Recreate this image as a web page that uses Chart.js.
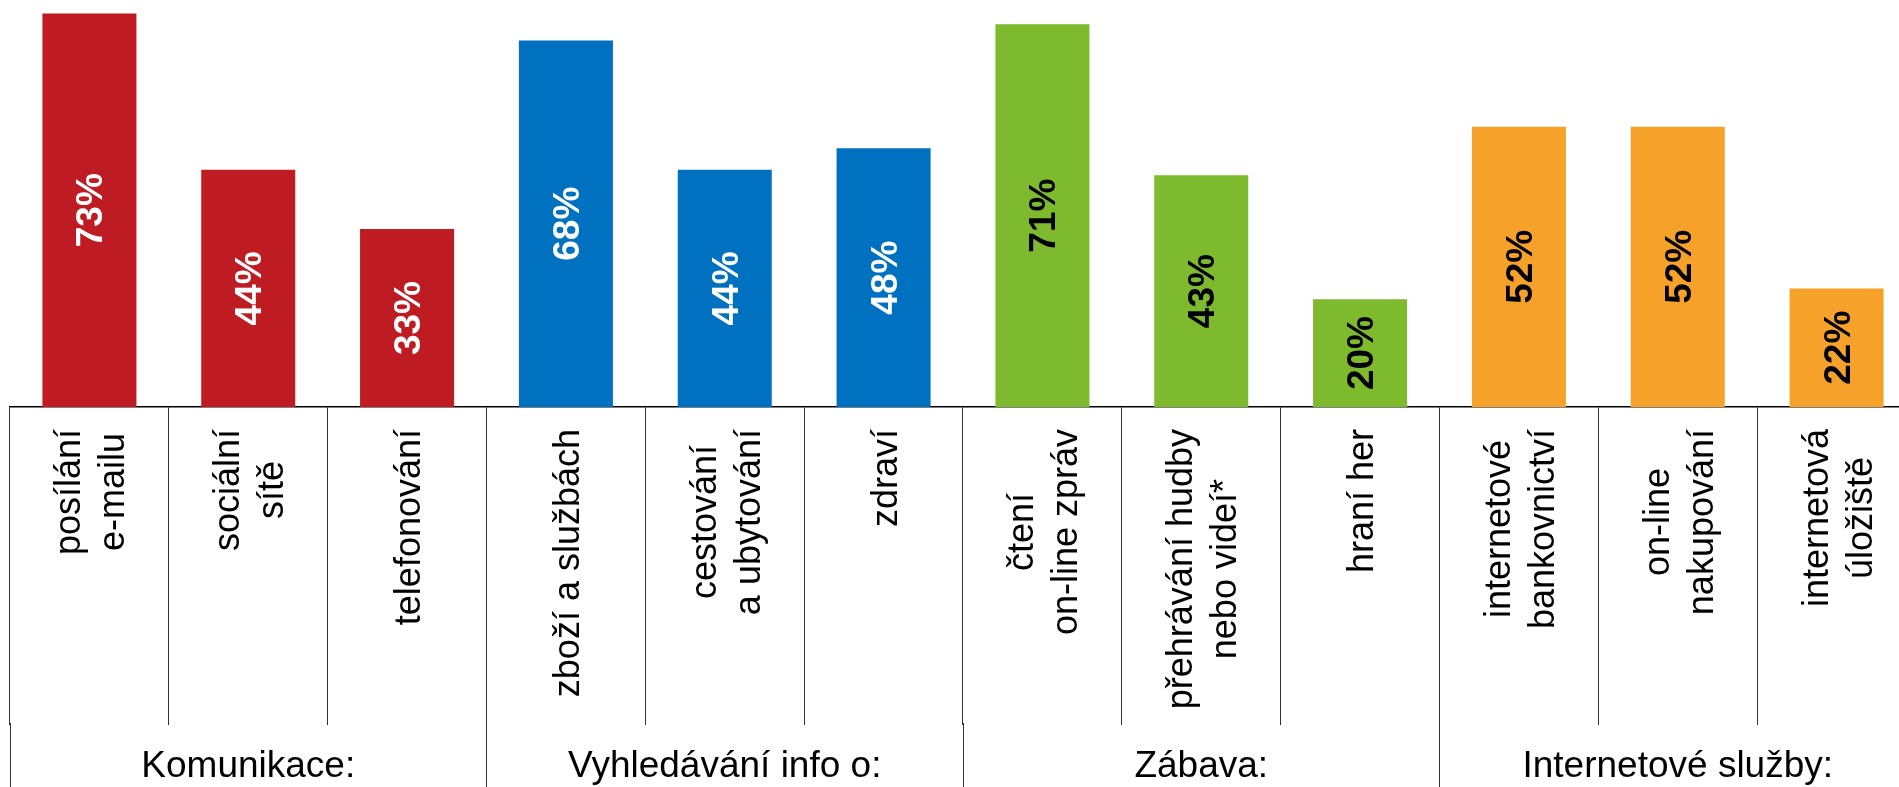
<!DOCTYPE html>
<html>
<head>
<meta charset="utf-8">
<script src="https://cdn.jsdelivr.net/npm/chart.js@4/dist/chart.umd.min.js"></script>
<style>
  html, body { margin: 0; padding: 0; background: #fff; overflow: hidden; }
  canvas { display: block; }
</style>
</head>
<body>
<canvas id="usageChart" width="1926" height="787"></canvas>
<script>
// ===== DATA =====
const categories = [
  ['posílání', 'e-mailu'], ['sociální', 'sítě'], 'telefonování',
  'zboží a službách', ['cestování', 'a ubytování'], 'zdraví',
  ['čtení', 'on-line zpráv'], ['přehrávání hudby', 'nebo videí*'], 'hraní her',
  ['internetové', 'bankovnictví'], ['on-line', 'nakupování'], ['internetová', 'úložiště']
];
const values = [73, 44, 33, 68, 44, 48, 71, 43, 20, 52, 52, 22];
const groups = ['Komunikace:', 'Vyhledávání info o:', 'Zábava:', 'Internetové služby:'];
const groupColors = ['#BE1B23', '#0070C0', '#7EBA2E', '#F6A22A'];
const valueColors = ['#ffffff', '#ffffff', '#000000', '#000000'];

const FONT = '"Liberation Sans", Arial, Helvetica, sans-serif';
const perGroup = categories.length / groups.length;
const barColors = values.map((v, i) => groupColors[Math.floor(i / perGroup)]);

Chart.defaults.font.family = FONT;
Chart.defaults.color = '#000';

// ===== PLUGIN: rotated category labels (centered lines) =====
const categoryLabels = {
  id: 'categoryLabels',
  afterDraw(chart) {
    const { ctx } = chart;
    const x = chart.scales.x;
    const lineHeight = 44;
    ctx.save();
    ctx.font = '36px ' + FONT;
    ctx.fillStyle = '#000';
    ctx.textAlign = 'center';
    ctx.textBaseline = 'alphabetic';
    categories.forEach((label, i) => {
      const lines = [].concat(label);
      const widest = Math.max(...lines.map(l => ctx.measureText(l).width));
      const cx = x.getPixelForTick(i);
      const cy = x.top + 22 + widest / 2;
      ctx.save();
      ctx.translate(cx, cy);
      ctx.rotate(-Math.PI / 2);
      lines.forEach((line, j) => {
        ctx.fillText(line, 0, (j - (lines.length - 1) / 2) * lineHeight + 13);
      });
      ctx.restore();
    });
    ctx.restore();
  }
};

// ===== PLUGIN: value labels inside bars =====
const valueLabels = {
  id: 'valueLabels',
  afterDatasetsDraw(chart) {
    const { ctx } = chart;
    const meta = chart.getDatasetMeta(0);
    ctx.save();
    ctx.font = 'bold 37px ' + FONT;
    ctx.textAlign = 'center';
    ctx.textBaseline = 'alphabetic';
    meta.data.forEach((bar, i) => {
      ctx.fillStyle = valueColors[Math.floor(i / perGroup)];
      ctx.save();
      ctx.translate(bar.x, (bar.y + bar.base) / 2);
      ctx.rotate(-Math.PI / 2);
      ctx.fillText(values[i] + '%', 0, 13);
      ctx.restore();
    });
    ctx.restore();
  }
};

new Chart(document.getElementById('usageChart'), {
  type: 'bar',
  data: {
    labels: categories,
    datasets: [{
      data: values,
      backgroundColor: barColors,
      borderWidth: 0,
      barPercentage: 0.592,
      categoryPercentage: 1
    }]
  },
  options: {
    responsive: false,
    animation: false,
    layout: { padding: { left: 10, right: 10, top: 0, bottom: 0 } },
    plugins: {
      legend: { display: false },
      tooltip: { enabled: false }
    },
    scales: {
      y: {
        display: false,
        min: 0,
        max: 75.5
      },
      x: {
        position: 'bottom',
        weight: 0,
        offset: true,
        // tick marks act as the column dividers below the axis
        grid: { offset: true, drawOnChartArea: false, tickLength: 318, color: '#333', lineWidth: 1 },
        border: { display: true, color: '#000', width: 1.5 },
        ticks: { display: false, autoSkip: false },
        afterFit: s => { s.height = 316; }
      },
      x2: {
        type: 'category',
        labels: groups,
        position: 'bottom',
        weight: 1,
        offset: true,
        grid: { offset: true, drawOnChartArea: false, tickLength: 66, color: '#333', lineWidth: 1 },
        border: { display: false },
        ticks: {
          autoSkip: false,
          maxRotation: 0,
          minRotation: 0,
          padding: -44,
          color: '#000',
          font: { size: 37 }
        },
        afterFit: s => { s.height = 64; }
      }
    }
  },
  plugins: [categoryLabels, valueLabels]
});
</script>
</body>
</html>
